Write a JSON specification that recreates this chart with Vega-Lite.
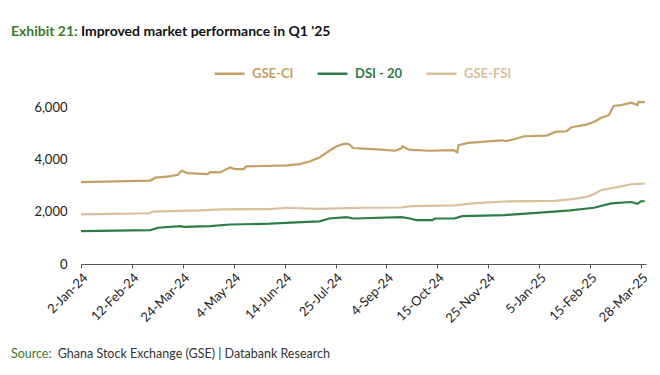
{
  "$schema": "https://vega.github.io/schema/vega-lite/v6.json",
  "background": "white",
  "padding": {"left": 10, "top": 25, "right": 5, "bottom": 5},
  "config": {"view": {"stroke": null}, "font": "Lato", "concat": {"spacing": 0}},
  "title": {
    "text": "Exhibit 21:",
    "subtitle": "\u200b\u2003\u2003\u2003\u2003\u2003\u2003\u2002Improved market performance in Q1 '25",
    "anchor": "start",
    "frame": "bounds",
    "color": "#3C7A2A",
    "subtitleColor": "#111111",
    "fontSize": 14,
    "subtitleFontSize": 14,
    "fontWeight": "bold",
    "subtitleFontWeight": "bold",
    "subtitleFont": "Lato",
    "subtitlePadding": -14,
    "offset": 18
  },
  "vconcat": [
    {
      "width": 565,
      "height": 170,
      "title": {
        "text": "Source:",
        "subtitle": "\u200b\u2003\u2003\u2003\u2003\u2003Ghana Stock Exchange (GSE) | Databank Research",
        "orient": "bottom",
        "anchor": "start",
        "frame": "bounds",
        "dx": -23,
        "color": "#3C7A2A",
        "subtitleColor": "#333333",
        "fontSize": 12.5,
        "subtitleFontSize": 12.5,
        "fontWeight": "normal",
        "subtitleFontWeight": "normal",
        "subtitleFont": "Lato",
        "subtitlePadding": -12.5,
        "offset": 23
      },
      "data": {
        "values": [
          {"d": "2024-01-02", "s": "GSE-CI", "v": 3130},
          {"d": "2024-02-27", "s": "GSE-CI", "v": 3190},
          {"d": "2024-03-02", "s": "GSE-CI", "v": 3300},
          {"d": "2024-03-13", "s": "GSE-CI", "v": 3350},
          {"d": "2024-03-20", "s": "GSE-CI", "v": 3410},
          {"d": "2024-03-23", "s": "GSE-CI", "v": 3565},
          {"d": "2024-03-28", "s": "GSE-CI", "v": 3475},
          {"d": "2024-04-13", "s": "GSE-CI", "v": 3435},
          {"d": "2024-04-15", "s": "GSE-CI", "v": 3510},
          {"d": "2024-04-23", "s": "GSE-CI", "v": 3500},
          {"d": "2024-05-01", "s": "GSE-CI", "v": 3690},
          {"d": "2024-05-05", "s": "GSE-CI", "v": 3630},
          {"d": "2024-05-12", "s": "GSE-CI", "v": 3630},
          {"d": "2024-05-14", "s": "GSE-CI", "v": 3730},
          {"d": "2024-06-16", "s": "GSE-CI", "v": 3770},
          {"d": "2024-06-26", "s": "GSE-CI", "v": 3820},
          {"d": "2024-07-04", "s": "GSE-CI", "v": 3920},
          {"d": "2024-07-12", "s": "GSE-CI", "v": 4075},
          {"d": "2024-07-16", "s": "GSE-CI", "v": 4200},
          {"d": "2024-07-20", "s": "GSE-CI", "v": 4330},
          {"d": "2024-07-26", "s": "GSE-CI", "v": 4500},
          {"d": "2024-08-01", "s": "GSE-CI", "v": 4600},
          {"d": "2024-08-05", "s": "GSE-CI", "v": 4580},
          {"d": "2024-08-08", "s": "GSE-CI", "v": 4435},
          {"d": "2024-08-16", "s": "GSE-CI", "v": 4410},
          {"d": "2024-08-31", "s": "GSE-CI", "v": 4370},
          {"d": "2024-09-11", "s": "GSE-CI", "v": 4330},
          {"d": "2024-09-16", "s": "GSE-CI", "v": 4420},
          {"d": "2024-09-17", "s": "GSE-CI", "v": 4500},
          {"d": "2024-09-22", "s": "GSE-CI", "v": 4370},
          {"d": "2024-10-08", "s": "GSE-CI", "v": 4330},
          {"d": "2024-10-28", "s": "GSE-CI", "v": 4350},
          {"d": "2024-10-31", "s": "GSE-CI", "v": 4270},
          {"d": "2024-11-01", "s": "GSE-CI", "v": 4540},
          {"d": "2024-11-09", "s": "GSE-CI", "v": 4630},
          {"d": "2024-11-25", "s": "GSE-CI", "v": 4690},
          {"d": "2024-12-06", "s": "GSE-CI", "v": 4730},
          {"d": "2024-12-09", "s": "GSE-CI", "v": 4700},
          {"d": "2024-12-15", "s": "GSE-CI", "v": 4760},
          {"d": "2024-12-24", "s": "GSE-CI", "v": 4885},
          {"d": "2025-01-11", "s": "GSE-CI", "v": 4910},
          {"d": "2025-01-18", "s": "GSE-CI", "v": 5050},
          {"d": "2025-01-27", "s": "GSE-CI", "v": 5075},
          {"d": "2025-01-31", "s": "GSE-CI", "v": 5230},
          {"d": "2025-02-12", "s": "GSE-CI", "v": 5330},
          {"d": "2025-02-18", "s": "GSE-CI", "v": 5430},
          {"d": "2025-02-24", "s": "GSE-CI", "v": 5590},
          {"d": "2025-03-02", "s": "GSE-CI", "v": 5690},
          {"d": "2025-03-06", "s": "GSE-CI", "v": 6040},
          {"d": "2025-03-12", "s": "GSE-CI", "v": 6075},
          {"d": "2025-03-20", "s": "GSE-CI", "v": 6165},
          {"d": "2025-03-25", "s": "GSE-CI", "v": 6075},
          {"d": "2025-03-26", "s": "GSE-CI", "v": 6200},
          {"d": "2025-03-31", "s": "GSE-CI", "v": 6190},

          {"d": "2024-01-02", "s": "DSI - 20", "v": 1260},
          {"d": "2024-02-27", "s": "DSI - 20", "v": 1295},
          {"d": "2024-03-04", "s": "DSI - 20", "v": 1385},
          {"d": "2024-03-22", "s": "DSI - 20", "v": 1450},
          {"d": "2024-03-25", "s": "DSI - 20", "v": 1420},
          {"d": "2024-04-15", "s": "DSI - 20", "v": 1450},
          {"d": "2024-05-01", "s": "DSI - 20", "v": 1510},
          {"d": "2024-06-02", "s": "DSI - 20", "v": 1540},
          {"d": "2024-06-28", "s": "DSI - 20", "v": 1600},
          {"d": "2024-07-12", "s": "DSI - 20", "v": 1630},
          {"d": "2024-07-20", "s": "DSI - 20", "v": 1740},
          {"d": "2024-08-03", "s": "DSI - 20", "v": 1790},
          {"d": "2024-08-08", "s": "DSI - 20", "v": 1740},
          {"d": "2024-08-16", "s": "DSI - 20", "v": 1750},
          {"d": "2024-09-16", "s": "DSI - 20", "v": 1790},
          {"d": "2024-09-22", "s": "DSI - 20", "v": 1750},
          {"d": "2024-09-28", "s": "DSI - 20", "v": 1680},
          {"d": "2024-10-11", "s": "DSI - 20", "v": 1680},
          {"d": "2024-10-13", "s": "DSI - 20", "v": 1740},
          {"d": "2024-10-29", "s": "DSI - 20", "v": 1745},
          {"d": "2024-11-04", "s": "DSI - 20", "v": 1830},
          {"d": "2024-12-08", "s": "DSI - 20", "v": 1870},
          {"d": "2025-01-17", "s": "DSI - 20", "v": 2000},
          {"d": "2025-01-30", "s": "DSI - 20", "v": 2050},
          {"d": "2025-02-18", "s": "DSI - 20", "v": 2150},
          {"d": "2025-03-04", "s": "DSI - 20", "v": 2320},
          {"d": "2025-03-20", "s": "DSI - 20", "v": 2370},
          {"d": "2025-03-25", "s": "DSI - 20", "v": 2300},
          {"d": "2025-03-28", "s": "DSI - 20", "v": 2400},
          {"d": "2025-03-31", "s": "DSI - 20", "v": 2400},

          {"d": "2024-01-02", "s": "GSE-FSI", "v": 1900},
          {"d": "2024-02-26", "s": "GSE-FSI", "v": 1940},
          {"d": "2024-02-29", "s": "GSE-FSI", "v": 2000},
          {"d": "2024-04-07", "s": "GSE-FSI", "v": 2050},
          {"d": "2024-04-23", "s": "GSE-FSI", "v": 2090},
          {"d": "2024-06-02", "s": "GSE-FSI", "v": 2100},
          {"d": "2024-06-16", "s": "GSE-FSI", "v": 2150},
          {"d": "2024-07-10", "s": "GSE-FSI", "v": 2110},
          {"d": "2024-08-16", "s": "GSE-FSI", "v": 2150},
          {"d": "2024-09-16", "s": "GSE-FSI", "v": 2160},
          {"d": "2024-09-24", "s": "GSE-FSI", "v": 2215},
          {"d": "2024-10-29", "s": "GSE-FSI", "v": 2240},
          {"d": "2024-11-12", "s": "GSE-FSI", "v": 2320},
          {"d": "2024-12-08", "s": "GSE-FSI", "v": 2390},
          {"d": "2025-01-17", "s": "GSE-FSI", "v": 2410},
          {"d": "2025-01-30", "s": "GSE-FSI", "v": 2470},
          {"d": "2025-02-12", "s": "GSE-FSI", "v": 2560},
          {"d": "2025-02-18", "s": "GSE-FSI", "v": 2665},
          {"d": "2025-02-24", "s": "GSE-FSI", "v": 2830},
          {"d": "2025-03-04", "s": "GSE-FSI", "v": 2895},
          {"d": "2025-03-14", "s": "GSE-FSI", "v": 2985},
          {"d": "2025-03-20", "s": "GSE-FSI", "v": 3050},
          {"d": "2025-03-31", "s": "GSE-FSI", "v": 3070}
        ]
      },
      "mark": {"type": "line", "strokeWidth": 2.2},
      "encoding": {
        "x": {
          "field": "d",
          "type": "temporal",
          "scale": {
            "type": "utc",
            "domain": [
              {"year": 2024, "month": 1, "date": 2, "utc": true},
              {"year": 2025, "month": 4, "date": 1, "utc": true}
            ]
          },
          "axis": {
            "title": null,
            "format": "%-d-%b-%y",
            "values": [
              {"year": 2024, "month": 1, "date": 2, "utc": true},
              {"year": 2024, "month": 2, "date": 12, "utc": true},
              {"year": 2024, "month": 3, "date": 24, "utc": true},
              {"year": 2024, "month": 5, "date": 4, "utc": true},
              {"year": 2024, "month": 6, "date": 14, "utc": true},
              {"year": 2024, "month": 7, "date": 25, "utc": true},
              {"year": 2024, "month": 9, "date": 4, "utc": true},
              {"year": 2024, "month": 10, "date": 15, "utc": true},
              {"year": 2024, "month": 11, "date": 25, "utc": true},
              {"year": 2025, "month": 1, "date": 5, "utc": true},
              {"year": 2025, "month": 2, "date": 15, "utc": true},
              {"year": 2025, "month": 3, "date": 28, "utc": true}
            ],
            "grid": false,
            "domainColor": "#555555",
            "domainWidth": 1.2,
            "tickColor": "#555555",
            "tickSize": 4,
            "labelAngle": -45,
            "labelFontSize": 13,
            "labelColor": "#222222",
            "labelPadding": 3,
            "labelFlush": false,
            "labelOverlap": false
          }
        },
        "y": {
          "field": "v",
          "type": "quantitative",
          "scale": {"domain": [0, 6500], "nice": false},
          "axis": {
            "title": null,
            "values": [0, 2000, 4000, 6000],
            "format": ",d",
            "grid": false,
            "domain": false,
            "ticks": false,
            "labelPadding": 14,
            "labelFontSize": 13,
            "labelColor": "#222222"
          }
        },
        "color": {
          "field": "s",
          "type": "nominal",
          "scale": {
            "domain": ["GSE-CI", "DSI - 20", "GSE-FSI"],
            "range": ["#C4A064", "#2E7D46", "#D9BF9C"]
          },
          "legend": {
            "title": null,
            "orient": "none",
            "direction": "horizontal",
            "legendX": 132,
            "legendY": -37,
            "symbolType": "stroke",
            "symbolSize": 900,
            "symbolStrokeWidth": 2.5,
            "labelFontSize": 13,
            "labelFontWeight": "bold",
            "labelOffset": 6,
            "columnPadding": 18,
            "encode": {
              "labels": {"update": {"fill": {"scale": "color", "field": "value"}}}
            }
          }
        }
      }
    }
  ]
}
